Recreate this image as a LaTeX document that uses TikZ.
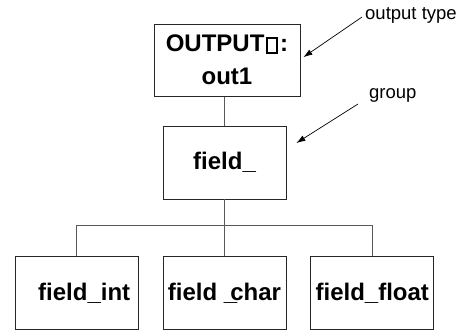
\documentclass[tikz,border=0pt]{standalone}
\usepackage{fontspec}
\setmainfont{Liberation Sans}
\usetikzlibrary{arrows.meta,positioning,calc}
% empty box glyph, as the font prints a missing character
\newcommand{\tofu}{\kern1.5bp{\fboxsep=0pt\fboxrule=2.4bp\fbox{\rule{0pt}{12.5bp}\kern7.5bp}}\kern2bp}

\begin{document}
\begin{tikzpicture}[
    x=1bp, y=1bp,
    >={Latex[length=9bp,width=6bp]},
    node distance=29bp and 24bp,
    leaf/.style={draw=black!85, line width=0.8bp, minimum width=123bp, minimum height=73bp, inner sep=0pt, font=\fontsize{24bp}{33bp}\selectfont\bfseries},
    note/.style={inner sep=0pt, anchor=west, font=\fontsize{18.5bp}{22bp}\selectfont},
    link/.style={draw=black!65, line width=0.8bp},
    pointer/.style={->, line width=0.7bp}
]
\useasboundingbox (-224.5,-168.5) rectangle (242.5,162.5);
% record tree
\node[leaf] (group) {field\_};
\node[leaf, above=of group, xshift=2.5bp, minimum width=146bp, minimum height=72bp, align=center] (out) {OUTPUT\tofu:\\out1};
\node[leaf, below=57bp of group] (char) {field \_\kern-7bp char};
\node[leaf, left=of char] (int) {\hspace*{15bp}field\_int};
\node[leaf, right=of char] (float) {field\_float};
\draw[link] (out.south -| group.north) -- (group.north);
\draw[link] (group.south) -- (char.north);
\coordinate (fork) at ($(group.south)!0.46!(char.north)$);
\draw[link] (int.north) |- (fork) -| (float.north);
% callouts
\node[note] (otype) at (140.5,147.5) {output type};
\node[note] (grp) at (144.5,67.5) {group};
\draw[pointer] ([shift={(-3,-2)}]otype.west) -- ([shift={(3,3)}]out.east);
\draw[pointer] ([shift={(-11,-9)}]grp.west) -- ([shift={(10,19.5)}]group.east);
\end{tikzpicture}
\end{document}
